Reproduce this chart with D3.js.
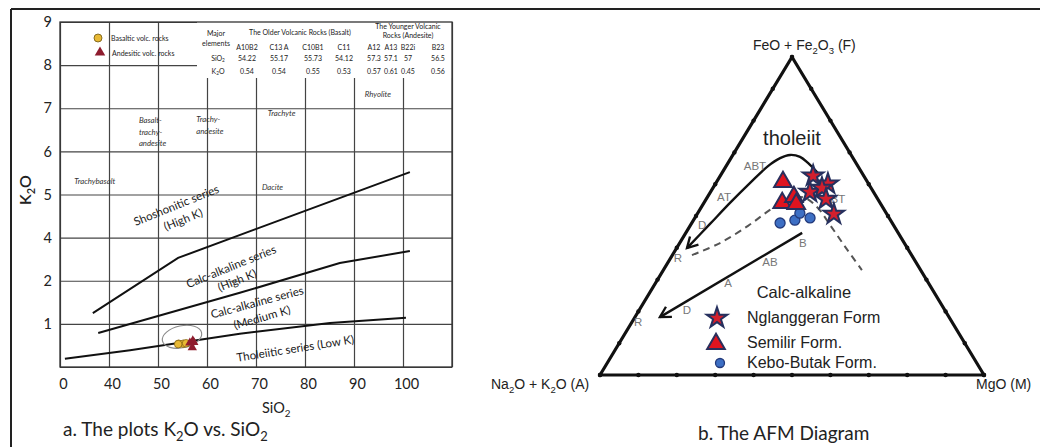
<!DOCTYPE html>
<meta charset="utf-8">
<style>
body { margin: 0; background: #fff; }
svg { display: block; font-family: Lato, "Open Sans", sans-serif; }
.frame { stroke: #222; stroke-width: 2; }
.grid line { stroke: #444; stroke-width: 1.2; }
.series { fill: none; stroke: #111; stroke-width: 2; }
.rock { font-style: italic; font-size: 7.8px; fill: #333; }
.serieslab { font-size: 11.5px; fill: #1a1a1a; }
.tab { font-size: 7px; fill: #222; }
.afm { font-family: "Liberation Sans", Arial, sans-serif; }
.trilab { font-size: 11.5px; fill: #777; }
</style>
<body>
<svg id="fig" width="1040" height="447"></svg>
<script src="https://d3js.org/d3.v7.min.js"></script>
<script>

// ---------- panel a : K2O vs SiO2 ----------
var samples  = ["A10B2", "C13 A", "C10B1", "C11", "A12", "A13", "B22i", "B23"];
var sio2     = [54.22, 55.17, 55.73, 54.12, 57.3, 57.1, 57, 56.5];
var k2o      = [0.54, 0.54, 0.55, 0.53, 0.57, 0.61, 0.45, 0.56];
var rockType = ["basalt", "basalt", "basalt", "basalt", "andesite", "andesite", "andesite", "andesite"];

var xTicks = [30, 40, 50, 60, 70, 80, 90, 100];
var xTickLabels = ["0", "40", "50", "60", "70", "80", "90", "100"];
var yTicks = [1, 2, 3, 4, 5, 6, 7, 8];
var yTickLabels = ["1", "2", "4", "5", "6", "7", "8", "9"];

// series boundary lines [SiO2, K2O grid units]
var shoshoniticLine = [[36.7, 1.25], [54.1, 2.53], [101.4, 4.52]];
var highKLine = [[37.8, 0.79], [66.7, 1.72], [87.1, 2.41], [101.4, 2.69]];
var lowKLine = [[31.0, 0.19], [44.3, 0.39], [66.7, 0.77], [85.1, 1.02], [100.6, 1.14]];

var seriesLabels = [
  {t: "Shoshonitic series", p: [53.7, 3.76], r: -22},
  {t: "(High K)", p: [55.1, 3.43], r: -22},
  {t: "Calc-alkaline series", p: [64.9, 2.34], r: -22},
  {t: "(High K)", p: [66.1, 2.02], r: -22},
  {t: "Calc-alkaline series", p: [70.2, 1.51], r: -15},
  {t: "(Medium K)", p: [71.2, 1.16], r: -16},
  {t: "Tholeiitic series (Low K)", p: [78.0, 0.44], r: -9}
];
var rockLabels = [
  {t: "Trachybasalt", p: [32.9, 4.31]},
  {t: "Basalt-", p: [46.1, 5.73]}, {t: "trachy-", p: [46.1, 5.45]}, {t: "andesite", p: [46.1, 5.19]},
  {t: "Trachy-", p: [57.8, 5.75]}, {t: "andesite", p: [57.8, 5.47]},
  {t: "Trachyte", p: [72.4, 5.89]},
  {t: "Rhyolite", p: [92.2, 6.33]},
  {t: "Dacite", p: [71.2, 4.17]}
];
var clusterCentre = [54.9, 0.70];

// ---------- panel b : AFM ternary, values as [A, F, M] % ----------
var nglanggeran = [[13.2, 62.6, 24.2], [10.6, 60.1, 29.3], [16.6, 57.5, 25.9],
                   [12.8, 58.8, 28.4], [13.5, 55.3, 31.2], [13.8, 50.6, 35.6]];
var semilir = [[22.0, 60.7, 17.3], [25.5, 54.1, 20.4], [21.5, 56.0, 22.5], [22.0, 53.8, 24.2]];
var keboButak = [[29.2, 47.8, 23.0], [24.9, 48.7, 26.4], [20.6, 49.4, 30.0], [22.5, 50.9, 26.6]];

var tholeiiticTrend = [[11.5, 63.5, 25.0], [12.5, 66.7, 20.8], [13.6, 68.6, 17.8], [15.9, 69.2, 14.9],
  [19.0, 68.2, 12.8], [23.4, 65.7, 10.9], [30.7, 60.4, 8.9], [39.1, 54.1, 6.8],
  [47.6, 47.5, 4.9], [57.4, 39.9, 2.7]];
var boundary = [[57.2, 37.7, 5.1], [48.0, 41.5, 10.5], [38.0, 46.9, 15.1], [29.8, 51.9, 18.3],
  [22.7, 55.7, 21.6], [18.8, 55.7, 25.5], [17.0, 52.5, 30.5], [16.5, 47.2, 36.3],
  [16.0, 40.3, 43.7], [15.3, 33.0, 51.7]];
var calcAlkTrend = [[25.0, 44.7, 30.3], [75.3, 18.2, 6.5]];

var trendLabels = [
  {t: "ABT", p: [26.8, 65.7, 7.5]}, {t: "AT", p: [39.7, 56.0, 4.3]},
  {t: "D", p: [49.8, 47.2, 3.0]}, {t: "R", p: [61.3, 36.8, 1.9]},
  {t: "BT", p: [10.4, 55.3, 34.3]}, {t: "B", p: [26.4, 41.5, 32.1]},
  {t: "AB", p: [38.0, 35.5, 26.5]}, {t: "A", p: [52.2, 28.9, 18.9]},
  {t: "D", p: [67.2, 20.4, 12.4]}, {t: "R", p: [81.7, 16.7, 1.6]}
];
var fieldLabels = [
  {t: "tholeiit", p: [13.85, 72.3, 13.85], size: 20},
  {t: "Calc-alkaline", p: [34.8, 24.2, 41.0], size: 16.5}
];
var afmLegend = ["Nglanggeran Form", "Semilir Form.", "Kebo-Butak Form."];

var svg = d3.select("#fig");

// helper for sub-scripted text, parts: [text, isSub]
function rich(sel, parts, size) {
  var prevSub = false;
  parts.forEach(function(p) {
    var t = sel.append("tspan").text(p[0]);
    if (p[1]) t.attr("font-size", size * 0.68).attr("dy", size * 0.28);
    else if (prevSub) t.attr("dy", -size * 0.28);
    prevSub = p[1];
  });
  return sel;
}

// outer frame
svg.append("line").attr("class", "frame").attr("x1", 11).attr("y1", 9).attr("x2", 1040).attr("y2", 9);
svg.append("line").attr("class", "frame").attr("x1", 11).attr("y1", 9).attr("x2", 11).attr("y2", 447);

// ===== panel a =====
var x = d3.scaleLinear().domain([30, 110]).range([60, 452]);
var y = d3.scaleLinear().domain([0, 8]).range([367, 22]);
var pa = svg.append("g");

pa.append("g").attr("class", "grid").attr("transform", "translate(0,367)")
    .call(d3.axisBottom(x).tickValues(d3.range(30, 111, 10)).tickSize(-345).tickFormat(""))
    .call(function(g) { g.select(".domain").remove(); });
pa.append("g").attr("class", "grid").attr("transform", "translate(60,0)")
    .call(d3.axisLeft(y).tickValues(d3.range(0, 9)).tickSize(-392).tickFormat(""))
    .call(function(g) { g.select(".domain").remove(); });

// table covers the top right of the grid
pa.append("rect").attr("x", 197).attr("y", 22).attr("width", 255).attr("height", 56).attr("fill", "#fff");
pa.append("rect").attr("x", 60).attr("y", 22).attr("width", 392).attr("height", 345)
    .attr("fill", "none").attr("stroke", "#333").attr("stroke-width", 1.3);

// tick labels
var yAx = pa.append("g").attr("transform", "translate(60,0)")
    .call(d3.axisLeft(y).tickValues(yTicks).tickSize(0).tickPadding(8)
      .tickFormat(function(d, i) { return yTickLabels[i]; }));
var xAx = pa.append("g").attr("transform", "translate(0,367)")
    .call(d3.axisBottom(x).tickValues(xTicks).tickSize(0).tickPadding(12)
      .tickFormat(function(d, i) { return xTickLabels[i]; }));
[yAx, xAx].forEach(function(g) {
  g.select(".domain").remove();
  g.selectAll("text").attr("font-family", "Lato, sans-serif").attr("font-size", 14.5).attr("fill", "#222");
});
xAx.selectAll("text").attr("dx", 3);

// axis titles
rich(pa.append("text").attr("transform", "translate(31,190) rotate(-90)")
    .attr("text-anchor", "middle").attr("font-size", 16).attr("font-weight", 600).attr("fill", "#222"),
    [["K", false], ["2", true], ["O", false]], 16);
rich(pa.append("text").attr("x", 262).attr("y", 413).attr("font-size", 14.5).attr("fill", "#222"),
    [["SiO", false], ["2", true]], 14.5);
rich(pa.append("text").attr("x", 63).attr("y", 436).attr("font-size", 19).attr("fill", "#222"),
    [["a. The plots K", false], ["2", true], ["O vs. SiO", false], ["2", true]], 19);

// boundary lines
var lineA = d3.line().x(function(d) { return x(d[0]); }).y(function(d) { return y(d[1]); });
[shoshoniticLine, highKLine, lowKLine].forEach(function(l) {
  pa.append("path").datum(l).attr("class", "series").attr("d", lineA);
});

pa.selectAll(".serieslab").data(seriesLabels).enter().append("text")
    .attr("class", "serieslab").attr("text-anchor", "middle").attr("dominant-baseline", "central")
    .attr("transform", function(d) { return "translate(" + x(d.p[0]) + "," + y(d.p[1]) + ") rotate(" + d.r + ")"; })
    .text(function(d) { return d.t; });

pa.selectAll(".rock").data(rockLabels).enter().append("text")
    .attr("class", "rock").attr("x", function(d) { return x(d.p[0]); })
    .attr("y", function(d) { return y(d.p[1]); }).attr("dominant-baseline", "central")
    .text(function(d) { return d.t; });

// table
var colX = [247, 279, 313, 344, 374, 391, 408, 438];
var tab = pa.append("g").attr("class", "tab").attr("text-anchor", "middle").attr("dominant-baseline", "central");
tab.append("text").attr("x", 216).attr("y", 33).text("Major");
tab.append("text").attr("x", 216).attr("y", 42.5).text("elements");
tab.append("text").attr("x", 300).attr("y", 32).text("The Older Volcanic Rocks (Basalt)");
tab.append("text").attr("x", 408).attr("y", 26).text("The Younger Volcanic");
tab.append("text").attr("x", 408).attr("y", 34.5).text("Rocks (Andesite)");
rich(tab.append("text").attr("x", 218).attr("y", 58), [["SiO", false], ["2", true]], 7);
rich(tab.append("text").attr("x", 218).attr("y", 71), [["K", false], ["2", true], ["O", false]], 7);
samples.forEach(function(s, i) {
  tab.append("text").attr("x", colX[i]).attr("y", 46.5).text(s);
  tab.append("text").attr("x", colX[i]).attr("y", 58).text(sio2[i]);
  tab.append("text").attr("x", colX[i]).attr("y", 71).text(k2o[i].toFixed(2));
});

// legend
pa.append("circle").attr("cx", 98).attr("cy", 38).attr("r", 4).attr("fill", "#e8b935").attr("stroke", "#6b5412").attr("stroke-width", 0.8);
pa.append("path").attr("d", d3.symbol(d3.symbolTriangle, 48)).attr("transform", "translate(100,52.5)").attr("fill", "#8e1c2e");
pa.append("text").attr("class", "tab").attr("font-size", 7.5).attr("x", 111).attr("y", 38).attr("dominant-baseline", "central").text("Basaltic volc. rocks");
pa.append("text").attr("class", "tab").attr("font-size", 7.5).attr("x", 112).attr("y", 52.5).attr("dominant-baseline", "central").text("Andesitic volc. rocks");

// cluster ellipse + points
pa.append("ellipse").attr("rx", 20).attr("ry", 11)
    .attr("transform", "translate(" + x(clusterCentre[0]) + "," + y(clusterCentre[1]) + ") rotate(-12)")
    .attr("fill", "none").attr("stroke", "#888").attr("stroke-width", 1.1);
var idx = d3.range(samples.length);
pa.selectAll(".bas").data(idx.filter(function(i) { return rockType[i] == "basalt"; })).enter().append("circle")
    .attr("cx", function(i) { return x(sio2[i]); }).attr("cy", function(i) { return y(k2o[i]); })
    .attr("r", 3.8).attr("fill", "#e8b935").attr("stroke", "#7a5c10").attr("stroke-width", 0.7);
pa.selectAll(".and").data(idx.filter(function(i) { return rockType[i] == "andesite"; })).enter().append("path")
    .attr("d", d3.symbol(d3.symbolTriangle, 38))
    .attr("transform", function(i) { return "translate(" + x(sio2[i]) + "," + y(k2o[i]) + ")"; })
    .attr("fill", "#8e1c2e");

// ===== panel b =====
var pb = svg.append("g").attr("class", "afm");
var Ax = 600, Ay = 375;
var tb = d3.scaleLinear().domain([0, 100]).range([0, 384]);   // along the A-M base
var th = d3.scaleLinear().domain([0, 100]).range([0, 318]);   // height towards F
function tern(p) { return [Ax + tb(p[2]) + tb(p[1]) / 2, Ay - th(p[1])]; }

var corners = [[100, 0, 0], [0, 100, 0], [0, 0, 100]];
pb.append("path").datum(corners)
    .attr("d", function(d) { return d3.line()(d.map(tern)) + "Z"; })
    .attr("fill", "none").attr("stroke", "#111").attr("stroke-width", 3.2).attr("stroke-linejoin", "round");

// 10 % dots on the edges
var edgeDots = [];
d3.range(0, 101, 10).forEach(function(v) {
  edgeDots.push([100 - v, 0, v], [100 - v, v, 0], [0, 100 - v, v]);
});
pb.selectAll(".edot").data(edgeDots).enter().append("circle")
    .attr("cx", function(d) { return tern(d)[0]; }).attr("cy", function(d) { return tern(d)[1]; })
    .attr("r", 2.2).attr("fill", "#111");

var defs = svg.append("defs");
defs.append("marker").attr("id", "arr").attr("viewBox", "0 0 12 12").attr("refX", 10).attr("refY", 6)
    .attr("markerWidth", 14).attr("markerHeight", 14).attr("markerUnits", "userSpaceOnUse").attr("orient", "auto")
  .append("path").attr("d", "M1,1 L10,6 L1,11").attr("fill", "none").attr("stroke", "#111").attr("stroke-width", 2);

var lineB = d3.line().x(function(d) { return tern(d)[0]; }).y(function(d) { return tern(d)[1]; });
pb.append("path").datum(boundary).attr("d", lineB.curve(d3.curveCatmullRom))
    .attr("fill", "none").attr("stroke", "#555").attr("stroke-width", 2).attr("stroke-dasharray", "7,5");
pb.append("path").datum(tholeiiticTrend).attr("d", lineB.curve(d3.curveCatmullRom))
    .attr("fill", "none").attr("stroke", "#111").attr("stroke-width", 2.4).attr("marker-end", "url(#arr)");
pb.append("path").datum(calcAlkTrend).attr("d", lineB.curve(d3.curveLinear))
    .attr("fill", "none").attr("stroke", "#111").attr("stroke-width", 2.4).attr("marker-end", "url(#arr)");

pb.selectAll(".trilab").data(trendLabels).enter().append("text")
    .attr("class", "trilab").attr("text-anchor", "middle").attr("dominant-baseline", "central")
    .attr("x", function(d) { return tern(d.p)[0]; }).attr("y", function(d) { return tern(d.p)[1]; })
    .text(function(d) { return d.t; });
pb.selectAll(".fieldlab").data(fieldLabels).enter().append("text")
    .attr("text-anchor", "middle").attr("fill", "#222").attr("font-size", function(d) { return d.size; })
    .attr("x", function(d) { return tern(d.p)[0]; }).attr("y", function(d) { return tern(d.p)[1]; })
    .text(function(d) { return d.t; });

// symbols
var starSym = d3.symbol(d3.symbolStar, 130), triSym = d3.symbol(d3.symbolTriangle, 135);
function place(d) { var q = tern(d); return "translate(" + q[0] + "," + q[1] + ")"; }
pb.selectAll(".kb").data(keboButak).enter().append("circle")
    .attr("cx", function(d) { return tern(d)[0]; }).attr("cy", function(d) { return tern(d)[1]; })
    .attr("r", 5).attr("fill", "#3d6fc4").attr("stroke", "#22397a").attr("stroke-width", 1.3);
pb.selectAll(".se").data(semilir).enter().append("path")
    .attr("d", triSym).attr("transform", place)
    .attr("fill", "#e0141f").attr("stroke", "#2a2f5c").attr("stroke-width", 2);
pb.selectAll(".ng").data(nglanggeran).enter().append("path")
    .attr("d", starSym).attr("transform", place)
    .attr("fill", "#d31f2d").attr("stroke", "#26305e").attr("stroke-width", 2);

// legend
var lg = pb.append("g");
lg.append("path").attr("d", starSym).attr("transform", "translate(717,318)")
    .attr("fill", "#d31f2d").attr("stroke", "#26305e").attr("stroke-width", 2);
lg.append("path").attr("d", triSym).attr("transform", "translate(716,344)")
    .attr("fill", "#e0141f").attr("stroke", "#2a2f5c").attr("stroke-width", 2);
lg.append("circle").attr("cx", 720).attr("cy", 363).attr("r", 4.5)
    .attr("fill", "#3d6fc4").attr("stroke", "#22397a").attr("stroke-width", 1.3);
afmLegend.forEach(function(t, i) {
  lg.append("text").attr("x", 747).attr("y", [323, 348, 368][i]).attr("font-size", 16).attr("fill", "#222").text(t);
});

// axis corner labels
rich(pb.append("text").attr("x", 753).attr("y", 50).attr("font-size", 14).attr("fill", "#222"),
    [["FeO + Fe", false], ["2", true], ["O", false], ["3", true], [" (F)", false]], 14);
rich(pb.append("text").attr("x", 491).attr("y", 389).attr("font-size", 14).attr("fill", "#222"),
    [["Na", false], ["2", true], ["O + K", false], ["2", true], ["O (A)", false]], 14);
pb.append("text").attr("x", 976).attr("y", 389).attr("font-size", 14).attr("fill", "#222").text("MgO (M)");

svg.append("text").attr("x", 698).attr("y", 440).attr("font-size", 19).attr("fill", "#222")
    .text("b. The AFM Diagram");

</script>
</body>
